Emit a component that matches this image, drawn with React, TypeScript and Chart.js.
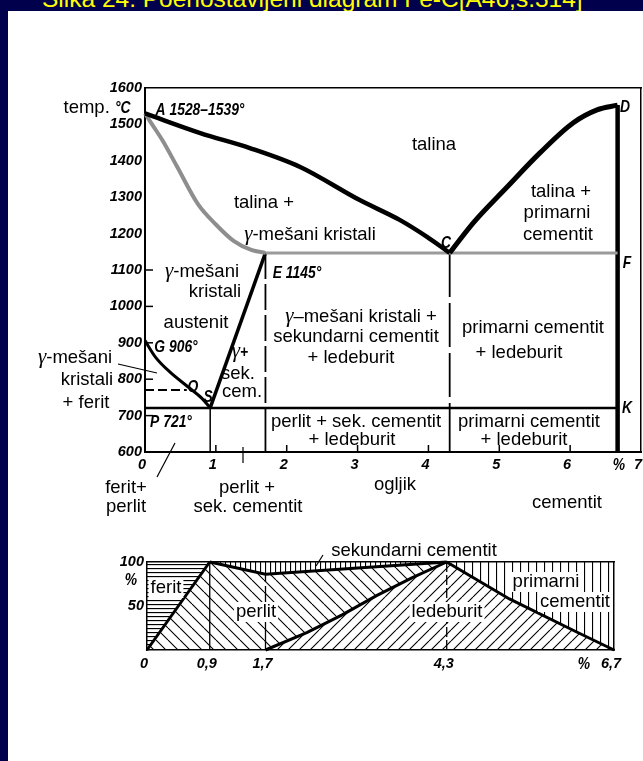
import React, { useEffect, useRef } from 'react';
import { Chart, registerables } from 'chart.js';
Chart.register(...registerables);

// ---------- main Fe-C diagram data (carbon %, temperature °C) ----------
const xTicksMain = [0, 1, 2, 3, 4, 5, 6, 7];
const yTicksMain = [600, 700, 800, 900, 1000, 1100, 1200, 1300, 1400, 1500, 1600];
const yTickMarks = [700, 800, 900, 1000, 1100];
const xTickMarks = [1, 2, 3, 4, 5, 6];

const liqAC_C = [0, 0.78, 1.48, 2.19, 3.03, 3.6, 3.98, 4.3];
const liqAC_T = [1530, 1476, 1435, 1383, 1292, 1237, 1191, 1147];
const liqCD_C = [4.3, 4.63, 5.11, 5.57, 6.04, 6.38, 6.67];
const liqCD_T = [1147, 1229, 1328, 1421, 1504, 1540, 1553];
const solAE_C = [0, 0.1, 0.25, 0.45, 0.75, 1.0, 1.25, 1.5, 1.7];
const solAE_T = [1530, 1500, 1455, 1385, 1280, 1225, 1180, 1155, 1147];
const ecf_C = [1.7, 6.67];
const ecf_T = [1147, 1147];
const gs_C = [0, 0.15, 0.35, 0.6, 0.8, 0.92];
const gs_T = [906, 860, 820, 780, 748, 721];
const se_C = [0.92, 1.7];
const se_T = [721, 1147];
const psk_C = [0, 6.67];
const psk_T = [721, 721];
const mo_C = [0, 0.59];
const mo_T = [770, 770];
const dVert_C = [6.67, 6.67];
const dVert_T = [1553, 600];
const sVert_C = [0.92, 0.92];
const sVert_T = [721, 600];
const eVert_C = [1.7, 1.7];
const cVert_C = [4.3, 4.3];
const upperVert_T = [1147, 721];
const lowerVert_T = [721, 600];

// ---------- lower structure diagram (carbon %, share %) ----------
const xTicksLow = [0, 0.9, 1.7, 4.3, 6.7];
const yTicksLow = [50, 100];
const ferBound_C = [0, 0.9];
const ferBound_P = [0, 100];
const perTop_C = [0.9, 1.7, 4.3];
const perTop_P = [100, 86, 100];
const ledBound_C = [1.7, 2.3, 2.8, 3.3, 3.8, 4.3];
const ledBound_P = [0, 20, 40, 62, 82, 100];
const priBound_C = [4.3, 5.2, 6.15, 6.7];
const priBound_P = [100, 58, 21, 0];
const v09_C = [0.9, 0.9];
const v09_P = [0, 100];
const v17_C = [1.7, 1.7];
const v17_P = [0, 86];
const v43_C = [4.3, 4.3];
const v43_P = [0, 100];

const FN = "18.5px 'Liberation Sans', Arial, sans-serif";
const FI = "italic bold 16.5px 'Liberation Sans', sans-serif";
const FG = "italic 21px 'Liberation Serif', serif";
const NARROW = 0.84;
const TICKFONT = { family: "'Liberation Sans', sans-serif", style: 'italic' as const, weight: 'bold' as const, size: 14.5 };

type Run = [string, string];
type Lbl = { x: number; y: number; runs: Run[]; bg?: boolean };

const mainLabels: Lbl[] = [
  { x: 97, y: 113, runs: [['temp. ', FN], ['°C', FI]] },
  { x: 200, y: 115, runs: [['A 1528–1539°', FI]] },
  { x: 434, y: 150, runs: [['talina', FN]] },
  { x: 264, y: 208, runs: [['talina +', FN]] },
  { x: 310, y: 240, runs: [['γ', FG], ['-mešani kristali', FN]] },
  { x: 446, y: 248, runs: [['C', FI]] },
  { x: 625, y: 112, runs: [['D', FI]] },
  { x: 561, y: 197, runs: [['talina +', FN]] },
  { x: 557, y: 218, runs: [['primarni', FN]] },
  { x: 558, y: 240, runs: [['cementit', FN]] },
  { x: 627, y: 268, runs: [['F', FI]] },
  { x: 297, y: 278, runs: [['E 1145°', FI]] },
  { x: 202, y: 277, runs: [['γ', FG], ['-mešani', FN]] },
  { x: 215, y: 297, runs: [['kristali', FN]] },
  { x: 196, y: 328, runs: [['austenit', FN]] },
  { x: 176, y: 352, runs: [['G 906°', FI]] },
  { x: 240, y: 357, runs: [['γ', FG], ['+', FI]] },
  { x: 238, y: 379, runs: [['sek.', FN]] },
  { x: 242, y: 397, runs: [['cem.', FN]] },
  { x: 193, y: 392, runs: [['O', FI]] },
  { x: 208, y: 402, runs: [['S', FI]] },
  { x: 171, y: 427, runs: [['P 721°', FI]] },
  { x: 75, y: 363, runs: [['γ', FG], ['-mešani', FN]] },
  { x: 87, y: 385, runs: [['kristali', FN]] },
  { x: 86, y: 408, runs: [['+ ferit', FN]] },
  { x: 126, y: 493, runs: [['ferit+', FN]] },
  { x: 126, y: 512, runs: [['perlit', FN]] },
  { x: 247, y: 493, runs: [['perlit +', FN]] },
  { x: 248, y: 512, runs: [['sek. cementit', FN]] },
  { x: 361, y: 322, runs: [['γ', FG], ['–mešani kristali +', FN]] },
  { x: 356, y: 342, runs: [['sekundarni cementit', FN]] },
  { x: 351, y: 363, runs: [['+ ledeburit', FN]] },
  { x: 533, y: 333, runs: [['primarni cementit', FN]] },
  { x: 519, y: 358, runs: [['+ ledeburit', FN]] },
  { x: 627, y: 413, runs: [['K', FI]] },
  { x: 356, y: 427, runs: [['perlit + sek. cementit', FN]] },
  { x: 352, y: 445, runs: [['+ ledeburit', FN]] },
  { x: 529, y: 427, runs: [['primarni cementit', FN]] },
  { x: 524, y: 445, runs: [['+ ledeburit', FN]] },
  { x: 619, y: 470, runs: [['%', FI]] },
  { x: 395, y: 490, runs: [['ogljik', FN]] },
  { x: 567, y: 508, runs: [['cementit', FN]] },
];
const mainPointers = [
  [118, 364, 157, 373],
  [157, 477, 175, 443],
  [243, 447, 243, 463],
];

const lowLabels: Lbl[] = [
  { x: 414, y: 556, runs: [['sekundarni cementit', FN]] },
  { x: 166, y: 593, runs: [['ferit', FN]], bg: true },
  { x: 256, y: 617, runs: [['perlit', FN]], bg: true },
  { x: 447, y: 617, runs: [['ledeburit', FN]], bg: true },
  { x: 546, y: 587, runs: [['primarni', FN]], bg: true },
  { x: 575, y: 607, runs: [['cementit', FN]], bg: true },
  { x: 131, y: 585, runs: [['%', FI]] },
  { x: 584, y: 669, runs: [['%', FI]] },
];
const lowPointers = [[323, 555, 316, 566]];

const pts = (xs: number[], ys: number[]) => xs.map((x, i) => ({ x, y: ys[i] }));
const line = (xs: number[], ys: number[], color: string, width: number, extra: any = {}) => ({
  data: pts(xs, ys),
  borderColor: color,
  borderWidth: width,
  pointRadius: 0,
  fill: false,
  tension: 0,
  clip: false,
  order: 0,
  ...extra,
});

function drawLabels(ctx: CanvasRenderingContext2D, labels: Lbl[], dy: number) {
  ctx.save();
  ctx.textAlign = 'left';
  ctx.textBaseline = 'alphabetic';
  for (const l of labels) {
    const widths = l.runs.map(([t, f]) => {
      ctx.font = f;
      return ctx.measureText(t).width * (f === FI ? NARROW : 1);
    });
    const total = widths.reduce((a, b) => a + b, 0);
    let x = l.x - total / 2;
    const y = l.y - dy;
    if (l.bg) {
      ctx.fillStyle = '#fff';
      ctx.fillRect(x - 2, y - 15, total + 4, 20);
    }
    ctx.fillStyle = '#000';
    l.runs.forEach(([t, f], i) => {
      ctx.font = f;
      if (f === FI) {
        ctx.save();
        ctx.translate(x, y);
        ctx.scale(NARROW, 1);
        ctx.fillText(t, 0, 0);
        ctx.restore();
      } else {
        ctx.fillText(t, x, y);
      }
      x += widths[i];
    });
  }
  ctx.restore();
}
function drawPointers(ctx: CanvasRenderingContext2D, ps: number[][], dy: number) {
  ctx.save();
  ctx.strokeStyle = '#000';
  ctx.lineWidth = 1.2;
  for (const [a, b, c, d] of ps) {
    ctx.beginPath();
    ctx.moveTo(a, b - dy);
    ctx.lineTo(c, d - dy);
    ctx.stroke();
  }
  ctx.restore();
}

function hatch(kind: string, s: number, lw: number): CanvasPattern {
  const c = document.createElement('canvas');
  c.width = s;
  c.height = s;
  const g = c.getContext('2d')!;
  g.strokeStyle = '#000';
  g.lineWidth = lw;
  g.beginPath();
  if (kind === 'h') {
    g.moveTo(0, 0.5);
    g.lineTo(s, 0.5);
  } else if (kind === 'v') {
    g.moveTo(0.5, 0);
    g.lineTo(0.5, s);
  } else if (kind === 'back') {
    for (const o of [-s, 0, s]) {
      g.moveTo(o, 0);
      g.lineTo(o + s, s);
    }
  } else {
    for (const o of [-s, 0, s]) {
      g.moveTo(o, s);
      g.lineTo(o + s, 0);
    }
  }
  g.stroke();
  return g.createPattern(c, 'repeat')!;
}

const fixY = (w: number) => (s: any) => {
  s.width = w;
  s.paddingTop = 0;
  s.paddingBottom = 0;
};
const fixX = (h: number) => (s: any) => {
  s.height = h;
  s.paddingLeft = 0;
  s.paddingRight = 0;
};

export default function App() {
  const mainRef = useRef<HTMLCanvasElement>(null);
  const lowRef = useRef<HTMLCanvasElement>(null);

  useEffect(() => {
    const charts: Chart[] = [];

    const mainTickPlugin = {
      id: 'mainDecor',
      afterDraw(chart: any) {
        const ctx = chart.ctx as CanvasRenderingContext2D;
        const xs = chart.scales.x;
        const ys = chart.scales.y;
        ctx.save();
        ctx.strokeStyle = '#000';
        ctx.lineWidth = 1.5;
        for (const v of yTickMarks) {
          const py = ys.getPixelForValue(v);
          ctx.beginPath();
          ctx.moveTo(chart.chartArea.left, py);
          ctx.lineTo(chart.chartArea.left + 8, py);
          ctx.stroke();
        }
        for (const v of xTickMarks) {
          const px = xs.getPixelForValue(v);
          ctx.beginPath();
          ctx.moveTo(px, chart.chartArea.bottom);
          ctx.lineTo(px, chart.chartArea.bottom - 7);
          ctx.stroke();
        }
        ctx.restore();
        drawPointers(ctx, mainPointers, 0);
        drawLabels(ctx, mainLabels, 0);
      },
    };

    const mono = { cubicInterpolationMode: 'monotone' };
    const mainChart = new Chart(mainRef.current!, {
      type: 'line',
      data: {
        datasets: [
          line(liqAC_C, liqAC_T, '#000', 4.5, mono),
          line(liqCD_C, liqCD_T, '#000', 5, mono),
          line(solAE_C, solAE_T, '#8e8e8e', 4, mono),
          line(ecf_C, ecf_T, '#9a9a9a', 3),
          line(gs_C, gs_T, '#000', 3, mono),
          line(se_C, se_T, '#000', 3.5),
          line(psk_C, psk_T, '#000', 2.5),
          line(mo_C, mo_T, '#000', 2, { borderDash: [9, 4] }),
          line(dVert_C, dVert_T, '#000', 4.5),
          line(sVert_C, sVert_T, '#000', 1.5),
          line(eVert_C, upperVert_T, '#000', 1.8, { borderDash: [26, 5] }),
          line(eVert_C, lowerVert_T, '#000', 1.8),
          line(cVert_C, upperVert_T, '#000', 1.8, { borderDash: [44, 6] }),
          line(cVert_C, lowerVert_T, '#000', 1.8),
        ] as any,
      },
      options: {
        responsive: false,
        animation: false,
        devicePixelRatio: 1,
        layout: { padding: { left: 100, right: 2, top: 88, bottom: 38 } },
        plugins: { legend: { display: false }, tooltip: { enabled: false } },
        scales: {
          x: {
            type: 'linear',
            min: 0,
            max: 7,
            afterFit: fixX(30),
            afterBuildTicks: (s: any) => { s.ticks = xTicksMain.map((v) => ({ value: v })); },
            ticks: {
              font: TICKFONT,
              color: '#000',
              padding: 4,
              maxRotation: 0,
              autoSkip: false,
              labelOffset: -3,
              callback: (v: any) => String(v),
            },
            grid: { display: false, drawTicks: false },
            border: { display: true, color: '#000', width: 2 },
          },
          x2: {
            type: 'linear',
            position: 'top',
            min: 0,
            max: 7,
            afterFit: fixX(0),
            ticks: { display: false },
            grid: { display: false, drawTicks: false },
            border: { display: true, color: '#000', width: 1.5 },
          },
          y: {
            type: 'linear',
            min: 600,
            max: 1600,
            afterFit: fixY(45),
            afterBuildTicks: (s: any) => { s.ticks = yTicksMain.map((v) => ({ value: v })); },
            ticks: { font: TICKFONT, color: '#000', padding: 3, autoSkip: false, callback: (v: any) => String(v) },
            grid: { display: false, drawTicks: false },
            border: { display: true, color: '#000', width: 2 },
          },
          y2: {
            type: 'linear',
            position: 'right',
            min: 600,
            max: 1600,
            afterFit: fixY(0),
            ticks: { display: false },
            grid: { display: false, drawTicks: false },
            border: { display: true, color: '#000', width: 1.5 },
          },
        },
      } as any,
      plugins: [mainTickPlugin],
    });
    charts.push(mainChart);

    // lower chart
    const pFerit = hatch('h', 4, 1.3);
    const pSek = hatch('v', 5, 1.2);
    const pPri = hatch('v', 8, 1.2);
    const pPer = hatch('back', 12, 1.1);
    const pLed = hatch('fwd', 11, 1.1);

    const poly = (xs: number[], ys: number[], pat: CanvasPattern) => ({
      data: pts(xs, ys),
      borderWidth: 0,
      borderColor: 'rgba(0,0,0,0)',
      backgroundColor: pat,
      fill: 'shape',
      pointRadius: 0,
      tension: 0,
      clip: false,
      order: 10,
    });
    const rev = (a: number[]) => a.slice().reverse();

    const lowDecor = {
      id: 'lowDecor',
      afterDraw(chart: any) {
        const ctx = chart.ctx as CanvasRenderingContext2D;
        drawPointers(ctx, lowPointers, 520);
        drawLabels(ctx, lowLabels, 520);
      },
    };

    const lowChart = new Chart(lowRef.current!, {
      type: 'line',
      data: {
        datasets: [
          line(ferBound_C, ferBound_P, '#000', 3),
          line(perTop_C, perTop_P, '#000', 3),
          line(ledBound_C, ledBound_P, '#000', 3),
          line(priBound_C, priBound_P, '#000', 3),
          line(v09_C, v09_P, '#000', 1.3),
          line(v17_C, v17_P, '#000', 1.3, { borderDash: [30, 4] }),
          line(v43_C, v43_P, '#000', 1.3, { borderDash: [10, 3] }),
          poly([0, 0, 0.9, 0], [0, 100, 100, 0], pFerit),
          poly([...perTop_C, 0.9], [...perTop_P, 100], pSek),
          poly([...ferBound_C, ...perTop_C.slice(1), ...rev(ledBound_C), 0],
               [...ferBound_P, ...perTop_P.slice(1), ...rev(ledBound_P), 0], pPer),
          poly([...ledBound_C, ...priBound_C.slice(1), 1.7], [...ledBound_P, ...priBound_P.slice(1), 0], pLed),
          poly([...priBound_C, 6.7, 4.3], [...priBound_P, 100, 100], pPri),
        ] as any,
      },
      options: {
        responsive: false,
        animation: false,
        devicePixelRatio: 1,
        layout: { padding: { left: 102, right: 29, top: 42, bottom: 20 } },
        plugins: { legend: { display: false }, tooltip: { enabled: false } },
        scales: {
          x: {
            type: 'linear',
            min: 0,
            max: 6.7,
            afterFit: fixX(30),
            afterBuildTicks: (s: any) => { s.ticks = xTicksLow.map((v) => ({ value: v })); },
            ticks: {
              font: TICKFONT,
              color: '#000',
              padding: 5,
              maxRotation: 0,
              autoSkip: false,
              labelOffset: -3,
              callback: (v: any) => String(v).replace('.', ','),
            },
            grid: { display: false, drawTicks: false },
            border: { display: true, color: '#000', width: 1.5 },
          },
          x2: {
            type: 'linear',
            position: 'top',
            min: 0,
            max: 6.7,
            afterFit: fixX(0),
            ticks: { display: false },
            grid: { display: false, drawTicks: false },
            border: { display: true, color: '#000', width: 1.5 },
          },
          y: {
            type: 'linear',
            min: 0,
            max: 100,
            afterFit: fixY(45),
            afterBuildTicks: (s: any) => { s.ticks = yTicksLow.map((v) => ({ value: v })); },
            ticks: { font: TICKFONT, color: '#000', padding: 3, autoSkip: false, callback: (v: any) => String(v) },
            grid: { display: false, drawTicks: false },
            border: { display: true, color: '#000', width: 1.5 },
          },
          y2: {
            type: 'linear',
            position: 'right',
            min: 0,
            max: 100,
            afterFit: fixY(0),
            ticks: { display: false },
            grid: { display: false, drawTicks: false },
            border: { display: true, color: '#000', width: 1.5 },
          },
        },
      } as any,
      plugins: [lowDecor],
    });
    charts.push(lowChart);

    return () => charts.forEach((c) => c.destroy());
  }, []);

  return (
    <div style={{ position: 'absolute', left: 0, top: 0, width: 643, height: 761, background: '#00004d', overflow: 'hidden' }}>
      <div
        style={{
          position: 'absolute',
          left: 42,
          top: -13,
          font: "24.5px 'Liberation Sans', Arial, sans-serif",
          lineHeight: '24.5px',
          color: '#ffff00',
          whiteSpace: 'nowrap',
        }}
      >
        Slika 24: Poenostavljeni diagram Fe-C[A46,s.314]
      </div>
      <div style={{ position: 'absolute', left: 8, top: 11, right: 0, bottom: 0, background: '#fff' }} />
      <canvas ref={mainRef} width={643} height={520} style={{ position: 'absolute', left: 0, top: 0 }} />
      <canvas ref={lowRef} width={643} height={180} style={{ position: 'absolute', left: 0, top: 520 }} />
    </div>
  );
}
